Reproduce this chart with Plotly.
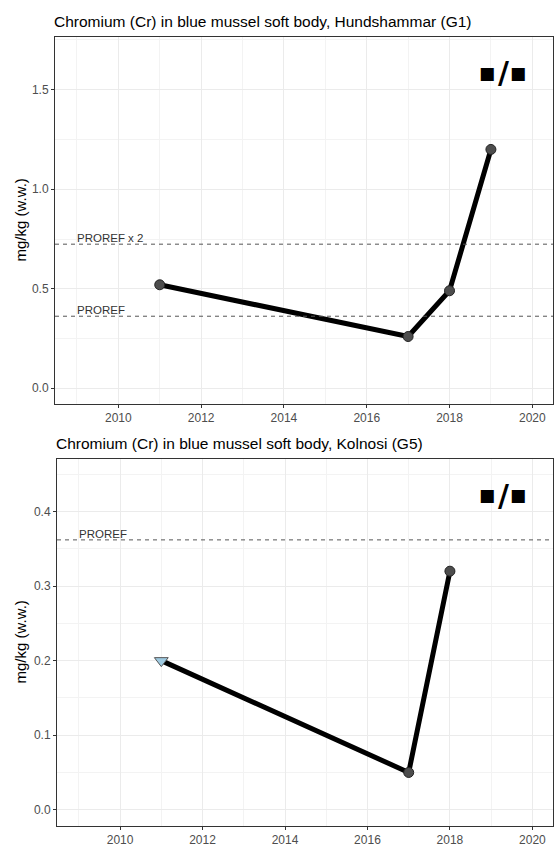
import plotly.graph_objects as go

# Chromium concentrations in blue mussel soft body (mg/kg w.w.)
years_g1 = [2011, 2017, 2018, 2019]
values_g1 = [0.52, 0.26, 0.49, 1.20]
below_loq_g1 = [False, False, False, False]

years_g5 = [2011, 2017, 2018]
values_g5 = [0.20, 0.05, 0.32]
below_loq_g5 = [True, False, False]

proref = 0.362
titles = [
    "Chromium (Cr) in blue mussel soft body, Hundshammar (G1)",
    "Chromium (Cr) in blue mussel soft body, Kolnosi (G5)",
]
y_title = "mg/kg (w.w.)"
trend_parts = ["■", "/", "■"]

W, H = 554, 846
FONT = "Liberation Sans, Arial, Helvetica, sans-serif"

# panel pixel boxes: left, right, top, bottom
panels = [
    dict(l=55, r=553, t=37, b=404, title_y=21.5, yrange=[-0.079, 1.765], ydt=0.5, ymin=0.25,
         lines=[(proref, "PROREF"), (2 * proref, "PROREF x 2")]),
    dict(l=57, r=553, t=459, b=826, title_y=443, yrange=[-0.0218, 0.4705], ydt=0.1, ymin=0.05,
         lines=[(proref, "PROREF")]),
]
series = [(years_g1, values_g1, below_loq_g1), (years_g5, values_g5, below_loq_g5)]

fig = go.Figure()
annotations = []
shapes = []

for i, (p, (yrs, vals, loq)) in enumerate(zip(panels, series)):
    n = "" if i == 0 else str(i + 1)
    xa, ya = "x" + n, "y" + n
    xdom = [p["l"] / W, p["r"] / W]
    ydom = [1 - p["b"] / H, 1 - p["t"] / H]
    axis_common = dict(
        showline=True, mirror=True, linecolor="#333333", linewidth=1,
        ticks="outside", ticklen=3, tickcolor="#333333", tickwidth=1,
        tickfont=dict(family=FONT, size=12, color="#4D4D4D"),
        showgrid=True, gridcolor="#EBEBEB", gridwidth=1, zeroline=False,
        automargin=False,
    )
    fig.layout["xaxis" + n] = dict(
        axis_common, domain=xdom, anchor=ya, range=[2008.47, 2020.5],
        tick0=2010, dtick=2,
        minor=dict(dtick=1, tick0=2009, showgrid=True, gridcolor="#F3F3F3", gridwidth=0.6),
    )
    fig.layout["yaxis" + n] = dict(
        axis_common, domain=ydom, anchor=xa, range=p["yrange"],
        tick0=0, dtick=p["ydt"], tickformat=".1f",
        minor=dict(dtick=p["ymin"], tick0=0, showgrid=True, gridcolor="#F3F3F3", gridwidth=0.6),
    )

    # reference levels
    for val, lab in p["lines"]:
        shapes.append(dict(type="line", xref=xa + " domain", x0=0, x1=1,
                           yref=ya, y0=val, y1=val,
                           line=dict(color="#555555", width=1, dash="4px,4px")))
        annotations.append(dict(x=2009, y=val, xref=xa, yref=ya, text=lab,
                                showarrow=False, xanchor="left", yanchor="bottom",
                                xshift=-2, yshift=-2,
                                font=dict(family=FONT, size=11.5, color="#333333")))

    # trend line
    fig.add_trace(go.Scatter(x=yrs, y=vals, mode="lines", xaxis=xa, yaxis=ya,
                             line=dict(color="black", width=5), showlegend=False,
                             hoverinfo="skip"))
    # measured points and points below limit of quantification
    mx = [x for x, q in zip(yrs, loq) if not q]
    my = [v for v, q in zip(vals, loq) if not q]
    lx = [x for x, q in zip(yrs, loq) if q]
    ly = [v for v, q in zip(vals, loq) if q]
    fig.add_trace(go.Scatter(x=mx, y=my, mode="markers", xaxis=xa, yaxis=ya,
                             marker=dict(symbol="circle", size=10, color="#4D4D4D",
                                         line=dict(color="#222222", width=1)),
                             showlegend=False))
    if lx:
        fig.add_trace(go.Scatter(x=lx, y=ly, mode="markers", xaxis=xa, yaxis=ya,
                                 marker=dict(symbol="triangle-down", size=12, color="#9ECAE1",
                                             line=dict(color="#555555", width=1)),
                                 showlegend=False))

    # panel title
    annotations.append(dict(x=(p["l"] - 3) / W, y=1 - p["title_y"] / H, xref="paper", yref="paper",
                            text=titles[i], showarrow=False, xanchor="left", yanchor="middle",
                            font=dict(family=FONT, size=15.5, color="black")))
    # y-axis title
    annotations.append(dict(x=20 / W, y=1 - (p["t"] + p["b"]) / 2 / H, xref="paper", yref="paper",
                            text=y_title, showarrow=False, textangle=-90,
                            xanchor="center", yanchor="middle",
                            font=dict(family=FONT, size=15, color="black")))
    # trend symbol: square / square
    cy = 1 - (p["t"] + 36) / H
    for part, px, size in zip(trend_parts, [487, 503, 518], [17, 30, 17]):
        annotations.append(dict(x=px / W, y=cy, xref="paper", yref="paper",
                                text="<b>" + part + "</b>", showarrow=False,
                                xanchor="center", yanchor="middle",
                                font=dict(family="DejaVu Sans", size=size, color="black")))

fig.update_layout(
    width=W, height=H, margin=dict(l=0, r=0, t=0, b=0),
    paper_bgcolor="white", plot_bgcolor="white",
    annotations=annotations, shapes=shapes,
)

fig.write_html("out.html")
